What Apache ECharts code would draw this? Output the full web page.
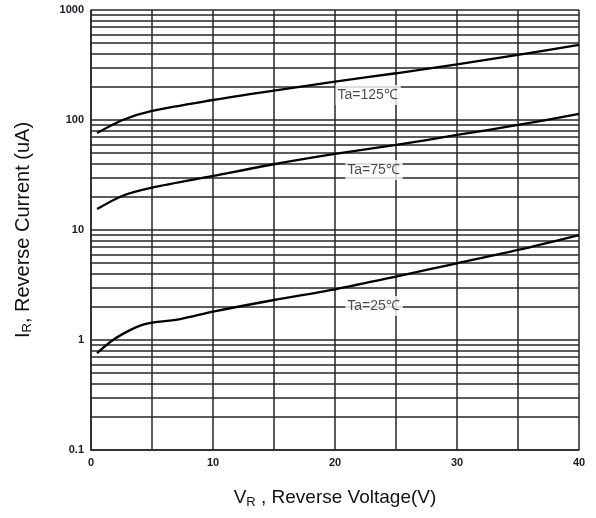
<!DOCTYPE html>
<html>
<head>
<meta charset="utf-8">
<script src="https://cdn.jsdelivr.net/npm/echarts@6/dist/echarts.min.js"></script>
<style>html,body{margin:0;padding:0;background:#fff}#c{width:596px;height:518px}</style>
</head>
<body>
<div id="c"></div>
<script>
// ---- data ----
const xTicksMajor = [0, 10, 20, 30, 40];
const yDecades = [0.1, 1, 10, 100, 1000];
const yMinorGrid = [0.2,0.3,0.4,0.5,0.6,0.7,0.8,0.9, 2,3,4,5,6,7,8,9, 20,30,40,50,60,70,80,90, 200,300,400,500,600,700,800,900];

const x125 = [0.5, 2.6, 5, 10, 15, 20, 25, 30, 35, 40];
const y125 = [76, 100, 121, 152, 185, 223, 266, 321, 390, 481];

const x75 = [0.5, 2.6, 5, 10, 15, 20, 25, 30, 35, 40];
const y75 = [15.5, 20.5, 24.3, 31.0, 39.6, 49.1, 59.3, 73.1, 90.1, 113.5];

const x25 = [0.5, 1.8, 3.2, 4.2, 5, 7.3, 10, 15, 20, 25, 30, 35, 40];
const y25 = [0.76, 1.0, 1.23, 1.37, 1.44, 1.55, 1.81, 2.31, 2.89, 3.77, 4.98, 6.58, 9.0];

const curveLabels = ['Ta=125℃', 'Ta=75℃', 'Ta=25℃'];
const labelX = [20.0, 20.8, 20.8];
const labelY = [169, 35.1, 2.04];

const zip = (xs, ys) => xs.map((x, i) => [x, ys[i]]);
const gridColor = '#262626';
const font = '"Liberation Sans", Arial, sans-serif';

const chart = echarts.init(document.getElementById('c'), null, {renderer: 'canvas'});
const curveStyle = {color: '#000', width: 2.3};
const mkCurve = (name, xs, ys) => ({
  name, type: 'line', data: zip(xs, ys), smooth: 0.3,
  showSymbol: false, symbol: 'none', lineStyle: curveStyle, z: 5, silent: true
});

chart.setOption({
  animation: false,
  backgroundColor: '#fff',
  grid: {left: 91, right: 17, top: 10, bottom: 68, containLabel: false, outerBoundsMode: 'none'},
  xAxis: {
    type: 'value', min: 0, max: 40, interval: 5,
    axisLine: {show: true, lineStyle: {color: gridColor, width: 1.5}},
    axisTick: {show: false},
    splitLine: {show: true, showMinLine: true, showMaxLine: true, lineStyle: {color: gridColor, width: 1.5}},
    axisLabel: {
      margin: 7, color: '#1a1a2a', fontSize: 11, fontWeight: 'bold', fontFamily: font,
      formatter: v => xTicksMajor.indexOf(v) >= 0 ? String(v) : ''
    },
    name: '{a|V}{s|R}{a| , Reverse Voltage(V)}',
    nameLocation: 'middle', nameGap: 36,
    nameTextStyle: {
      rich: {
        a: {fontSize: 19, fontFamily: font, color: '#111', lineHeight: 24},
        s: {fontSize: 13, fontFamily: font, color: '#111', lineHeight: 24, padding: [9, 0, 0, 0]}
      }
    }
  },
  yAxis: {
    type: 'log', logBase: 10, min: 0.1, max: 1000,
    axisLine: {show: true, lineStyle: {color: gridColor, width: 1.5}},
    axisTick: {show: false},
    splitLine: {show: true, showMinLine: true, showMaxLine: true, lineStyle: {color: gridColor, width: 1.5}},
    axisLabel: {
      margin: 7, color: '#1a1a2a', fontSize: 11, fontWeight: 'bold', fontFamily: font,
      formatter: v => {
        const f = yDecades.find(d => Math.abs(d - v) / d < 1e-6);
        return f !== undefined ? String(f) : '';
      }
    },
    name: '{a|I}{s|R}{a|, Reverse Current (uA)}',
    nameLocation: 'middle', nameRotate: 90, nameGap: 56,
    nameTextStyle: {
      rich: {
        a: {fontSize: 20, fontFamily: font, color: '#111', lineHeight: 24},
        s: {fontSize: 13, fontFamily: font, color: '#111', lineHeight: 24, padding: [9, 0, 0, 0]}
      }
    }
  },
  series: [
    {
      name: 'grid', type: 'line', data: [], silent: true,
      markLine: {
        silent: true, symbol: ['none', 'none'], animation: false,
        label: {show: false},
        lineStyle: {color: gridColor, width: 1.5, type: 'solid'},
        data: yMinorGrid.map(v => ({yAxis: v}))
      }
    },
    mkCurve('Ta=125', x125, y125),
    mkCurve('Ta=75', x75, y75),
    mkCurve('Ta=25', x25, y25),
    {
      name: 'labels', type: 'scatter', symbolSize: 1, silent: true, z: 10,
      itemStyle: {color: 'rgba(0,0,0,0)'},
      data: curveLabels.map((t, i) => ({value: [labelX[i], labelY[i]], name: t})),
      label: {
        show: true, position: 'right', distance: 0,
        formatter: p => p.name,
        fontSize: 14, fontFamily: font, color: '#1a1a2a',
        backgroundColor: '#fff', padding: [3, 3, 3, 2]
      }
    }
  ]
});
</script>
</body>
</html>
